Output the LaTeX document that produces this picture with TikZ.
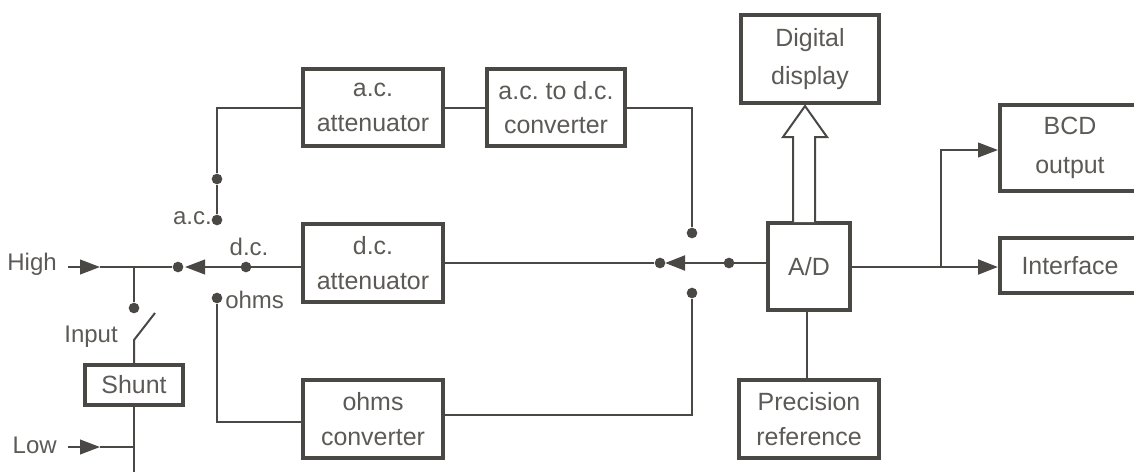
\documentclass[tikz,border=0pt]{standalone}
\usepackage{fontspec}
\setmainfont{Liberation Sans}
\usetikzlibrary{arrows.meta}
\definecolor{inkline}{HTML}{4A4844}
\definecolor{inktext}{HTML}{5C5A56}
\tikzset{
  blockbox/.style={draw=inkline,line width=3pt,fill=white,align=center,text=inktext,inner sep=0pt,font=\fontsize{18.7}{26}\selectfont},
  wire/.style={draw=inkline,line width=1.5pt},
  mainwire/.style={draw=inkline,line width=2.2pt},
  flow/.style={-{Triangle[length=15pt,width=11pt]}},
  contact/.style={circle,fill=inkline,inner sep=0pt,minimum size=8pt},
  label/.style={text=inktext,inner sep=0.75pt,font=\fontsize{18}{22}\selectfont}
}
\begin{document}
\begin{tikzpicture}[x=0.75pt,y=0.75pt,yscale=-1,xscale=1]
\useasboundingbox (0,0) rectangle (1134,472);
\clip (0,0) rectangle (1134,472);

% Blocks
\node [blockbox,minimum width=105pt,minimum height=58pt] (acatt) at (373,107.5) {a.c.\\attenuator};
\node [blockbox,minimum width=103pt,minimum height=58pt] (acdc) at (556,107.5) {a.c.\ to d.c.\\converter};
\node [blockbox,minimum width=104pt,minimum height=66pt] (display) at (810,59) {Digital\\[3pt]display};
\node [blockbox,minimum width=105pt,minimum height=58pt] (dcatt) at (373,263) {d.c.\\attenuator};
\node [blockbox,minimum width=62pt,minimum height=65pt] (ad) at (809,266.5) {A/D};
\node [blockbox,minimum width=105pt,minimum height=65pt] (bcd) at (1070,148) {BCD\\[3pt]output};
\node [blockbox,minimum width=105pt,minimum height=41pt] (iface) at (1070,265.5) {Interface};
\node [blockbox,minimum width=74pt,minimum height=30pt] (shunt) at (134,385) {Shunt};
\node [blockbox,minimum width=105pt,minimum height=58pt] (ohmsconv) at (373,419) {ohms\\converter};
\node [blockbox,minimum width=105pt,minimum height=58pt] (prec) at (809,419) {Precision\\reference};

% Contacts
\node [contact] (inhigh) at (134,308) {};
\node [contact] (sel) at (178,267) {};
\node [contact] (dcdot) at (246,267) {};
\node [contact] (actop) at (217,179) {};
\node [contact] (acdot) at (217,220) {};
\node [contact] (ohmdot) at (217,298) {};
\node [contact] (seladc) at (660,263) {};
\node [contact] (addot) at (729,263) {};
\node [contact] (acdcdot) at (692,233) {};
\node [contact] (ohmsdot) at (692,293) {};

% Free ends
\coordinate (highin) at (68,267);
\coordinate (hightip) at (100,267);
\coordinate (highj) at (134,267);
\coordinate (lowin) at (68,447);
\coordinate (lowtip) at (100,447);
\coordinate (lowj) at (134,447);
\coordinate (earth) at (134,472);
\coordinate (swfoot) at (134,340);
\coordinate (swtip) at (155,313);
\coordinate (dctip) at (185,267);
\coordinate (adtip) at (665,263);
\coordinate (branch) at (941,267);

% Left side
\draw [wire,flow] (highin) -- (hightip);
\draw [wire] (hightip) -- (sel);
\draw [wire] (highj) -- (inhigh);
\draw [wire] (swtip) -- (swfoot) -- (shunt.north -| swfoot);
\draw [wire] (shunt.south) -- (earth);
\draw [wire,flow] (lowin) -- (lowtip);
\draw [wire] (lowtip) -- (lowj);
\draw [wire,flow] (dcatt.west |- dctip) -- (dctip);

% Switch lines
\draw [wire] (acdot) -- (actop) |- (acatt.west);
\draw [wire] (ohmdot) |- (ohmsconv.west |- 0,422);
\draw [wire] (acatt.east) -- (acdc.west);
\draw [wire] (acdc.east) -| (acdcdot);
\draw [wire] (ohmsconv.east |- 0,415) -| (ohmsdot);

% Main line
\draw [mainwire] (dcatt.east |- seladc) -- (seladc);
\draw [mainwire,flow] (ad.west |- addot) -- (adtip);

% Right side
\draw [mainwire] (ad.east |- branch) -- (branch);
\draw [mainwire,flow] (branch) -- (iface.west |- branch);
\draw [wire,flow] (branch) |- (bcd.west |- 0,150);
\draw [wire] (prec.north -| 807,0) -- (ad.south -| 807,0);

% Hollow arrow
\draw [wire,fill=white,line join=miter] (793,222) -- (793,137) -- (783,137) -- (805,106) -- (827,137) -- (815,137) -- (815,222);

% Text Node
\node [label,anchor=east] (lhigh) at (58,264) {High};
\node [label,anchor=east] (llow) at (58,445) {Low};
\node [label,anchor=east] (linput) at (119,337) {Input};
\node [label,anchor=east] (lac) at (213,218) {a.c.};
\node [label] (ldc) at (249,247) {d.c.};
\node [label,anchor=west] (lohms) at (224,300) {ohms};

\end{tikzpicture}
\end{document}
